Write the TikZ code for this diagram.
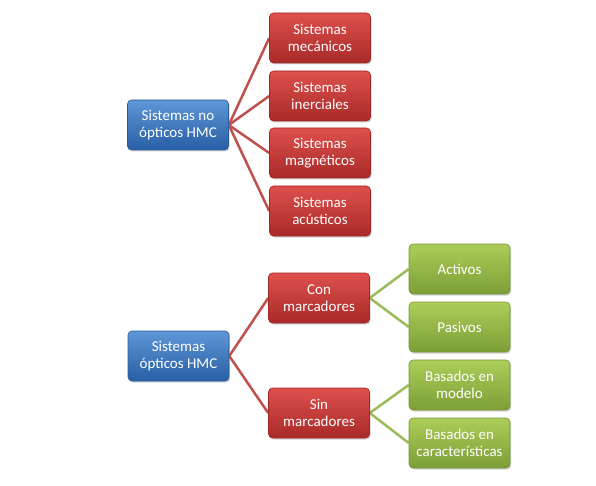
\documentclass[tikz,border=0pt]{standalone}
\usepackage{fontspec}
\setmainfont{Carlito}
\usetikzlibrary{shadows,backgrounds}
\definecolor{redline}{RGB}{192,80,77}
\definecolor{greenline}{RGB}{155,187,89}
\tikzset{
  boxbase/.style={rounded corners=4pt, minimum width=101pt, minimum height=50pt,
    text=white, align=center, inner sep=1pt,
    font=\fontsize{15pt}{17pt}\selectfont,
    drop shadow={shadow xshift=1pt, shadow yshift=-1.5pt, opacity=0.35}},
  bluebox/.style={boxbase, draw={rgb,255:red,45;green,90;blue,150}, line width=0.6pt,
    top color={rgb,255:red,95;green,150;blue,215}, bottom color={rgb,255:red,40;green,95;blue,165}},
  redbox/.style={boxbase, draw={rgb,255:red,160;green,40;blue,38}, line width=0.6pt,
    top color={rgb,255:red,222;green,80;blue,76}, bottom color={rgb,255:red,168;green,42;blue,40}},
  greenbox/.style={boxbase, draw={rgb,255:red,120;green,150;blue,55}, line width=0.6pt,
    top color={rgb,255:red,172;green,206;blue,88}, bottom color={rgb,255:red,125;green,157;blue,55}},
  redconn/.style={draw=redline, line width=2.5pt},
  greenconn/.style={draw=greenline, line width=2.5pt}
}
\begin{document}
\begin{tikzpicture}[x=1pt,y=-1pt]
\useasboundingbox (0,0) rectangle (596,486);
\node[bluebox] (b1) at (178,125) {Sistemas no\\ópticos HMC};
\node[redbox] (r1) at (320,38) {Sistemas\\mecánicos};
\node[redbox] (r2) at (320,96) {Sistemas\\inerciales};
\node[redbox] (r3) at (320,153) {Sistemas\\magnéticos};
\node[redbox] (r4) at (320,211) {Sistemas\\acústicos};
\node[bluebox] (b2) at (178.5,356) {Sistemas\\ópticos HMC};
\node[redbox] (c1) at (319,298) {Con\\marcadores};
\node[redbox] (c2) at (319,413) {Sin\\marcadores};
\node[greenbox] (g1) at (459.5,269) {Activos};
\node[greenbox] (g2) at (459.5,327) {Pasivos};
\node[greenbox] (g3) at (459.5,385) {Basados en\\modelo};
\node[greenbox] (g4) at (459.5,443) {Basados en\\características};
\begin{pgfonlayer}{background}
\foreach \t in {r1,r2,r3,r4} \draw[redconn] (b1.east) -- (\t.west);
\foreach \t in {c1,c2} \draw[redconn] (b2.east) -- (\t.west);
\foreach \t in {g1,g2} \draw[greenconn] (c1.east) -- (\t.west);
\foreach \t in {g3,g4} \draw[greenconn] (c2.east) -- (\t.west);
\end{pgfonlayer}
\end{tikzpicture}
\end{document}
